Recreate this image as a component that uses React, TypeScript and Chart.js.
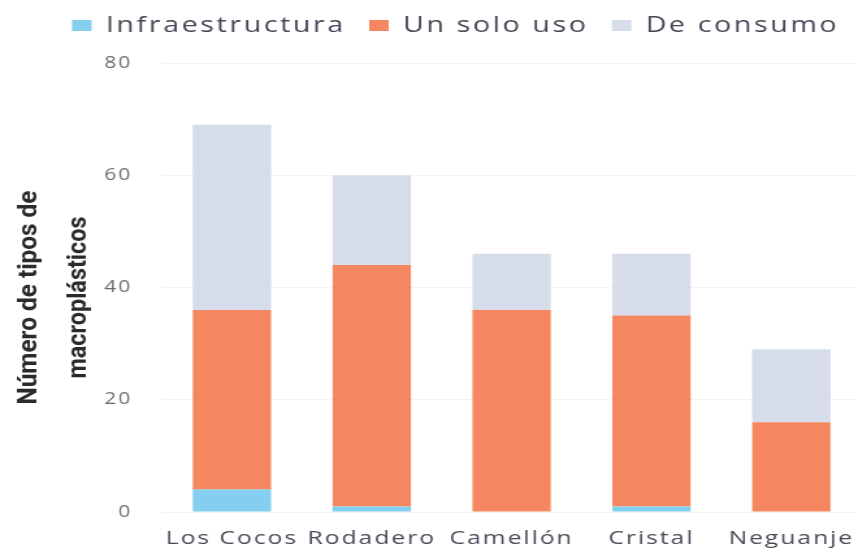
import React, { useEffect, useRef } from "react";
import { Chart, registerables } from "chart.js";

Chart.register(...registerables);

const categories = ["Los Cocos", "Rodadero", "Camellón", "Cristal", "Neguanje"];
const seriesNames = ["Infraestructura", "Un solo uso", "De consumo"];
const infraestructura = [4, 1, 0, 1, 0];
const unSoloUso = [32, 43, 36, 34, 16];
const deConsumo = [33, 16, 10, 11, 13];
const yTicks = [0, 20, 40, 60, 80];
const yTitleLines = ["Número de tipos de", "macroplásticos"];
const seriesColors = ["#84cff0", "#f4875f", "#d6dce9"];

// The whole drawing is stretched horizontally (like the reference image)
const STRETCH = 1.3;
const INNER_W = 672;
const SPACING = "1.5px";
const LEGEND_SPACING = "2px";

const spacingPlugin = {
  id: "letterSpacing",
  afterInit(chart: any) {
    const lg = chart.legend;
    if (lg && !lg.__patched) {
      const origFit = lg.fit;
      const origDraw = lg.draw;
      lg.fit = function () {
        this.ctx.letterSpacing = LEGEND_SPACING;
        origFit.call(this);
        this.ctx.letterSpacing = SPACING;
        this.height += 16.5;
      };
      lg.draw = function () {
        this.ctx.letterSpacing = LEGEND_SPACING;
        origDraw.call(this);
        this.ctx.letterSpacing = SPACING;
      };
      lg.__patched = true;
    }
  },
  beforeUpdate(chart: any) {
    chart.ctx.letterSpacing = SPACING;
  },
  beforeLayout(chart: any) {
    chart.ctx.letterSpacing = SPACING;
  },
  beforeDraw(chart: any) {
    chart.ctx.letterSpacing = SPACING;
  },
  resize(chart: any) {
    chart.ctx.letterSpacing = SPACING;
  },
};

const yTitlePlugin = {
  id: "yTitleLines",
  afterDraw(chart: any) {
    const ctx = chart.ctx;
    const area = chart.chartArea;
    const cy = (area.top + area.bottom) / 2 + 10;
    const lines = [
      { text: yTitleLines[0], x: 28, len: 214 },
      { text: yTitleLines[1], x: 66, len: 162 },
    ];
    ctx.save();
    ctx.letterSpacing = "0px";
    ctx.font = "bold 20px Roboto";
    ctx.fillStyle = "#2b2b2b";
    ctx.textAlign = "center";
    ctx.textBaseline = "alphabetic";
    for (const l of lines) {
      const w = ctx.measureText(l.text).width;
      ctx.save();
      ctx.translate(l.x, cy);
      ctx.rotate(-Math.PI / 2);
      ctx.scale(l.len / w, 1);
      ctx.fillText(l.text, 0, 0);
      ctx.restore();
    }
    ctx.restore();
  },
};

export default function App() {
  const ref = useRef<HTMLCanvasElement>(null);

  useEffect(() => {
    const chart = new Chart(ref.current as HTMLCanvasElement, {
      type: "bar",
      data: {
        labels: categories,
        datasets: [
          { label: seriesNames[0], data: infraestructura, backgroundColor: seriesColors[0] },
          { label: seriesNames[1], data: unSoloUso, backgroundColor: seriesColors[1] },
          { label: seriesNames[2], data: deConsumo, backgroundColor: seriesColors[2] },
        ],
      },
      options: {
        animation: false,
        responsive: true,
        maintainAspectRatio: false,
        datasets: { bar: { barPercentage: 1, categoryPercentage: 0.56 } },
        layout: { padding: { left: 29, right: 0, top: -3.5, bottom: 0 } },
        plugins: {
          legend: {
            position: "top",
            labels: {
              font: { family: "'Open Sans', sans-serif", size: 22 },
              color: "#454555",
              boxWidth: 15,
              boxHeight: 11,
              padding: 18,
            },
          },
          tooltip: { enabled: false },
        },
        scales: {
          x: {
            stacked: true,
            grid: { display: false, drawTicks: false },
            border: { display: false },
            ticks: {
              font: { family: "'Open Sans', sans-serif", size: 19 },
              color: "#4a4a5a",
              padding: 15,
              maxRotation: 0,
              autoSkip: false,
            },
            afterFit(scale: any) {
              scale.height = 36;
            },
          },
          y: {
            stacked: true,
            min: 0,
            max: 80,
            afterBuildTicks(scale: any) {
              scale.ticks = yTicks.map((v) => ({ value: v }));
            },
            grid: { color: "rgba(0,0,0,0.045)", drawTicks: false },
            border: { display: false },
            ticks: {
              font: { family: "'Open Sans', sans-serif", size: 16 },
              color: "#6a6a6a",
              padding: 23,
            },
            afterFit(scale: any) {
              scale.width = 95.6;
            },
          },
        },
      },
      plugins: [spacingPlugin, yTitlePlugin],
    });
    return () => chart.destroy();
  }, []);

  return (
    <div
      style={{
        position: "absolute",
        left: 0,
        top: 0,
        width: 856,
        height: 548,
        overflow: "hidden",
        background: "#ffffff",
      }}
    >
      <div
        style={{
          position: "relative",
          width: INNER_W,
          height: 548,
          transform: `scaleX(${STRETCH})`,
          transformOrigin: "0 0",
        }}
      >
        <canvas ref={ref} />
      </div>
    </div>
  );
}
